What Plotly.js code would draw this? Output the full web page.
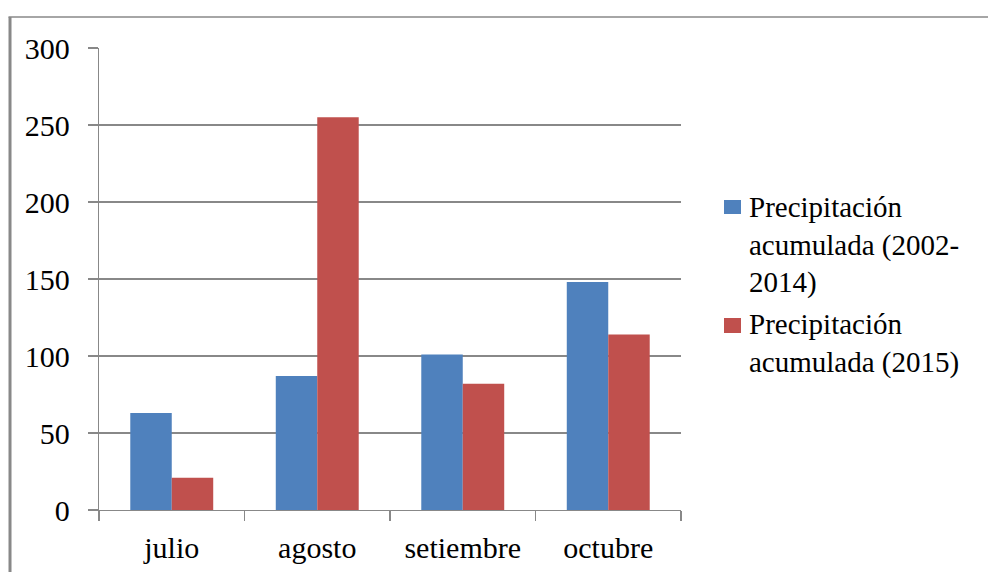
<!DOCTYPE html>
<html>
<head>
<meta charset="utf-8">
<script src="https://cdn.plot.ly/plotly-3.0.1.min.js"></script>
<style>
  html, body { margin: 0; padding: 0; background: #fff; }
  #chart { width: 988px; height: 572px; }
</style>
</head>
<body>
<div id="chart"></div>
<script>
// Monthly accumulated precipitation (mm)
const months = ['julio', 'agosto', 'setiembre', 'octubre'];
const precip20022014 = [63, 87, 101, 148];
const precip2015 = [21, 255, 82, 114];
const seriesNames = ['Precipitación<br>acumulada (2002-<br>2014)', 'Precipitación<br>acumulada (2015)'];
const seriesColors = ['#4F81BD', '#C0504D'];
const yTicks = [0, 50, 100, 150, 200, 250, 300];

const serif = '"Liberation Serif", serif';
const grey = '#888888';

const traces = [
  { type: 'bar', x: months, y: precip20022014, name: seriesNames[0], marker: { color: seriesColors[0] } },
  { type: 'bar', x: months, y: precip2015, name: seriesNames[1], marker: { color: seriesColors[1] } }
];

// Legend drawn by hand so the serif text and larger swatches can be placed freely
const legendSwatches = [
  { y0: 0.6407, y1: 0.6710 },
  { y0: 0.3831, y1: 0.4156 }
];
const legendTextY = [0.5736, 0.3604];

const shapes = [
  // outer chart frame: left and top edges
  { type: 'line', xref: 'paper', yref: 'paper', x0: -0.1529, x1: -0.1529, y0: 1.0671, y1: -0.2,
    line: { color: grey, width: 3 } },
  { type: 'line', xref: 'paper', yref: 'paper', x0: -0.1555, x1: 1.6, y0: 1.0671, y1: 1.0671,
    line: { color: grey, width: 1.3 } }
];
const annotations = [];
seriesNames.forEach((name, i) => {
  shapes.push({
    type: 'rect', xref: 'paper', yref: 'paper', x0: 1.0739, x1: 1.1031,
    y0: legendSwatches[i].y0, y1: legendSwatches[i].y1,
    fillcolor: seriesColors[i], line: { width: 0 }
  });
  annotations.push({
    xref: 'paper', yref: 'paper', x: 1.1134, y: legendTextY[i],
    xanchor: 'left', yanchor: 'middle', align: 'left', showarrow: false,
    text: name, font: { family: serif, size: 29, color: '#000' }
  });
});

const layout = {
  width: 988, height: 572,
  margin: { l: 99, r: 307, t: 48, b: 62, pad: 0 },
  paper_bgcolor: '#ffffff', plot_bgcolor: '#ffffff',
  font: { family: serif, size: 30, color: '#000' },
  barmode: 'group', bargap: 0.43, bargroupgap: 0,
  showlegend: false,
  xaxis: {
    type: 'category', showline: true, linecolor: grey, linewidth: 1.3,
    ticks: 'outside', tickson: 'boundaries', ticklen: 10, tickcolor: grey, tickwidth: 1.3,
    showgrid: false, tickfont: { family: serif, size: 30 }, ticklabelstandoff: 11
  },
  yaxis: {
    range: [0, 300], tickvals: yTicks, showline: true, linecolor: grey, linewidth: 1.3,
    ticks: 'outside', ticklen: 10, tickcolor: grey, tickwidth: 1.3,
    showgrid: true, gridcolor: grey, gridwidth: 1.3, zeroline: false,
    tickfont: { family: serif, size: 30 }, ticklabelstandoff: 12
  },
  shapes: shapes,
  annotations: annotations
};

Plotly.newPlot('chart', traces, layout, { displayModeBar: false, staticPlot: true });
</script>
</body>
</html>
